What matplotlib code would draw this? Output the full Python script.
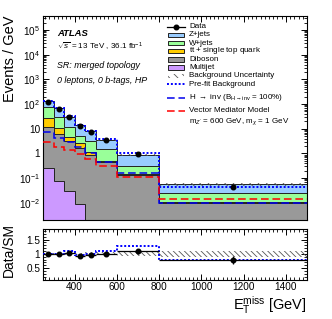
import numpy as np
import matplotlib
matplotlib.use("Agg")
import matplotlib.pyplot as plt
from matplotlib.patches import Rectangle
from matplotlib.lines import Line2D
from matplotlib.ticker import FixedLocator, MultipleLocator, LogLocator, FuncFormatter, NullFormatter

plt.rcParams['font.family'] = ['Liberation Sans', 'DejaVu Sans']
plt.rcParams['mathtext.fontset'] = 'custom'
plt.rcParams['mathtext.rm'] = 'Liberation Sans'
plt.rcParams['mathtext.it'] = 'Liberation Sans:italic'
plt.rcParams['mathtext.bf'] = 'Liberation Sans:bold'
plt.rcParams['hatch.linewidth'] = 0.6

# ---- data (events / GeV) ----
bin_edges = [250, 300, 350, 400, 450, 500, 600, 800, 1500]
data_vals = [125, 66, 31, 13, 7.4, 3.4, 0.91, 0.043]
zjets = [53, 37, 18.7, 9.1, 4.6, 1.95, 0.54, 0.029]
wjets = [47.5, 19, 7.0, 2.5, 2.0, 0.94, 0.16, 0.0155]
ttbar = [15.3, 5.0, 1.6, 0.9, 0.3, 0.06, 0.01, 0.0005]
diboson = [11.0, 5.9, 3.17, 1.69, 0.83, 0.45, 0.13, 0.010]
multijet = [0.26, 0.074, 0.029, 0.009, 0.0, 0.0, 0.0, 0.0]
hinv = [7.2, 4.4, 2.8, 1.9, 1.0, 0.46, 0.16, 0.0098]
vmm = [2.8, 1.8, 1.4, 0.91, 0.6, 0.30, 0.107, 0.014]
prefit_ratio = [1.0, 1.0, 1.11, 0.97, 1.0, 1.11, 1.26, 0.80]
bkg_unc = [0.03, 0.03, 0.04, 0.04, 0.05, 0.05, 0.08, 0.11]

edges = np.array(bin_edges, dtype=float)
widths = np.diff(edges)
centers = 0.5 * (edges[:-1] + edges[1:])
data = np.array(data_vals)

comps = [
    ("Multijet", np.array(multijet), "#cc99ff"),
    ("Diboson", np.array(diboson), "#999999"),
    (r"t$\bar{\rm t}$ + single top quark", np.array(ttbar), "#ffcc00"),
    ("W+jets", np.array(wjets), "#99ff99"),
    ("Z+jets", np.array(zjets), "#99ccff"),
]
total = sum(c[1] for c in comps)
prefit = total * np.array(prefit_ratio)
unc = np.array(bkg_unc)

W, H = 332, 319
fig = plt.figure(figsize=(W / 100, H / 100), dpi=100)
ax = fig.add_axes([43 / W, 1 - 220 / H, 264 / W, 204 / H])
rax = fig.add_axes([43 / W, 1 - 279.5 / H, 264 / W, 50.5 / H])

# stack
base = np.full(len(total), 1e-9)
for label, vals, col in comps:
    top = base + vals
    ax.stairs(top, edges, baseline=base, fill=True, facecolor=col,
              edgecolor='none', zorder=2)
    ax.stairs(top, edges, baseline=None, color='#222222', lw=0.7, zorder=3)
    base = top

# background uncertainty band
ax.stairs(total * (1 + unc), edges, baseline=total * (1 - unc), fill=True,
          facecolor='none', edgecolor='#555555', hatch='\\\\\\\\', lw=0, zorder=4)

# prefit, signals
ax.stairs(prefit, edges, baseline=None, color='#0000ff', lw=1.4,
          linestyle=(0, (1, 1)), zorder=5)
ax.stairs(np.array(hinv), edges, baseline=None, color='#0000ee', lw=1.1,
          linestyle=(0, (5, 2.5)), zorder=5)
ax.stairs(np.array(vmm), edges, baseline=None, color='#ff0000', lw=1.1,
          linestyle=(0, (5, 2.5)), zorder=5)

# data
counts = data * widths
derr = np.sqrt(counts) / widths
ax.errorbar(centers, data, yerr=derr, fmt='o', color='black', ms=3.3,
            lw=0.9, capsize=0, zorder=6)

ax.set_yscale('log')
ax.set_xlim(250, 1500)
ax.set_ylim(2e-3, 3.7e5)

def logfmt(v, pos):
    n = int(round(np.log10(v)))
    if n == 0:
        return "1"
    if n == 1:
        return "10"
    return r"$10^{%d}$" % n

ax.yaxis.set_major_locator(LogLocator(base=10, numticks=20))
ax.yaxis.set_minor_locator(LogLocator(base=10, subs=np.arange(2, 10), numticks=50))
ax.yaxis.set_major_formatter(FuncFormatter(logfmt))
ax.yaxis.set_minor_formatter(NullFormatter())
ax.xaxis.set_major_locator(MultipleLocator(200))
ax.xaxis.set_minor_locator(MultipleLocator(20))
ax.tick_params(labelbottom=False)
ax.set_ylabel("Events / GeV", fontsize=10.5, loc='top')
ax.yaxis.set_label_coords(-0.097, 1.0)

for a in (ax, rax):
    a.tick_params(which='both', direction='in', top=True, right=True, labelsize=7.2, pad=2)
    a.tick_params(which='major', length=4.5, width=0.7)
    a.tick_params(which='minor', length=2.3, width=0.6)
    for s in a.spines.values():
        s.set_linewidth(0.8)

# ratio panel
ratio = data / total
rerr = derr / total
rax.stairs(1 + unc, edges, baseline=1 - unc, fill=True, facecolor='none',
           edgecolor='#555555', hatch='\\\\\\\\\\\\', lw=0, zorder=2)
rax.stairs(np.array(prefit_ratio), edges, baseline=None, color='#0000ff', lw=1.4,
           linestyle=(0, (1, 1)), zorder=3)
rax.errorbar(centers, ratio, xerr=widths / 2, yerr=rerr, fmt='o', color='black',
             ms=3.3, lw=0.9, capsize=0, zorder=4)
rax.set_xlim(250, 1500)
rax.set_ylim(0.1, 1.87)
rax.yaxis.set_major_locator(FixedLocator([0.5, 1.0, 1.5]))
rax.yaxis.set_major_formatter(FuncFormatter(lambda v, p: "1" if v == 1 else "%g" % v))
rax.yaxis.set_minor_locator(MultipleLocator(0.1))
rax.xaxis.set_major_locator(MultipleLocator(200))
rax.xaxis.set_minor_locator(MultipleLocator(20))
rax.set_ylabel("Data/SM", fontsize=10)
rax.yaxis.set_label_coords(-0.103, 0.58)
rax.set_xlabel(r"E$_{\rm T}^{\rm miss}$ [GeV]", fontsize=10.5, loc='right', labelpad=1)

# labels
ax.text(0.053, 0.912, "ATLAS", transform=ax.transAxes, fontsize=6.8,
        weight='bold', style='italic', va='center')
ax.text(0.053, 0.848, r"$\sqrt{s}$ = 13 TeV , 36.1 fb$^{-1}$", transform=ax.transAxes,
        fontsize=5.8, va='center')
ax.text(0.053, 0.755, "SR: merged topology", transform=ax.transAxes, fontsize=6.4,
        style='italic', va='center')
ax.text(0.053, 0.686, "0 leptons, 0 b-tags, HP", transform=ax.transAxes, fontsize=6.4,
        style='italic', va='center')

# legend (manual)
hx0, hx1, tx = 0.470, 0.538, 0.553
fs = 5.8
rows = [0.948 - 0.0402 * i for i in range(8)] + [0.600, 0.536, 0.482]
tr = ax.transAxes
# Data
y = rows[0]
ax.add_line(Line2D([hx0, hx1], [y, y], color='black', lw=0.9, transform=tr))
ax.add_line(Line2D([(hx0 + hx1) / 2], [y], marker='o', ms=3.3, color='black', transform=tr))
ax.text(tx, y, "Data", transform=tr, fontsize=fs, va='center')
for i, (label, vals, col) in enumerate(reversed(comps)):
    y = rows[1 + i]
    ax.add_patch(Rectangle((hx0 + 0.004, y - 0.011), hx1 - hx0 - 0.008, 0.022,
                           facecolor=col, edgecolor='#222222', lw=0.7, transform=tr))
    ax.text(tx, y, label, transform=tr, fontsize=fs, va='center')
y = rows[6]
ax.add_patch(Rectangle((hx0 + 0.004, y - 0.011), hx1 - hx0 - 0.008, 0.022,
                       facecolor='none', edgecolor='#555555', hatch='\\\\\\\\', lw=0,
                       transform=tr))
ax.text(tx, y, "Background Uncertainty", transform=tr, fontsize=fs, va='center')
y = rows[7]
ax.add_line(Line2D([hx0, hx1], [y, y], color='#0000ff', lw=1.4, linestyle=(0, (1, 1)),
                   transform=tr))
ax.text(tx, y, "Pre-fit Background", transform=tr, fontsize=fs, va='center')
y = rows[8]
ax.add_line(Line2D([hx0, hx1], [y, y], color='#0000ee', lw=1.1, linestyle=(0, (5, 2.5)),
                   transform=tr))
ax.text(tx, y, r"H $\rightarrow$ inv (B$_{\mathregular{H\rightarrow inv}}$ = 100%)",
        transform=tr, fontsize=fs, va='center')
y = rows[9]
ax.add_line(Line2D([hx0, hx1], [y, y], color='#ff0000', lw=1.1, linestyle=(0, (5, 2.5)),
                   transform=tr))
ax.text(tx, y, "Vector Mediator Model", transform=tr, fontsize=fs, va='center')
ax.text(tx, rows[10], r"m$_{Z'}$ = 600 GeV, m$_{\chi}$ = 1 GeV", transform=tr,
        fontsize=fs, va='center')

fig.savefig("out.png", dpi=100)
